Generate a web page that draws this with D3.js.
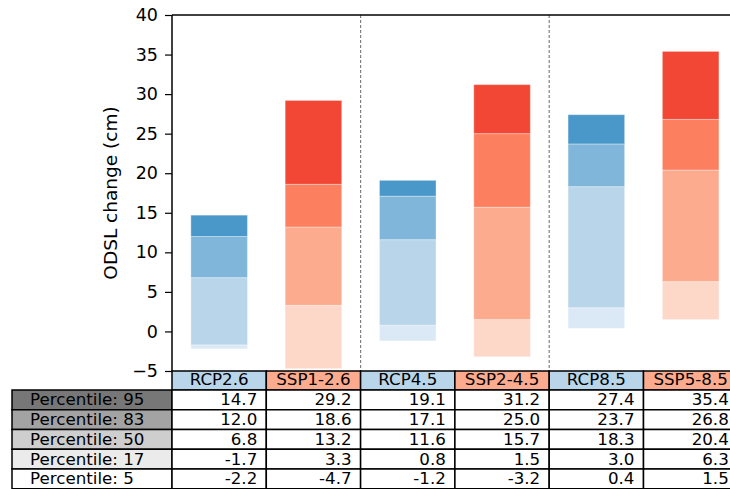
<!DOCTYPE html>
<html>
<head>
<meta charset="utf-8">
<script src="https://cdn.jsdelivr.net/npm/d3@7"></script>
<style>
  html, body { margin: 0; padding: 0; background: #fff; }
  svg { display: block; font-family: "DejaVu Sans", sans-serif; }
</style>
</head>
<body>
<svg id="chart" width="730" height="489"></svg>
<script>
// Scenario columns and ODSL change percentiles (cm)
const scenarios = ["RCP2.6", "SSP1-2.6", "RCP4.5", "SSP2-4.5", "RCP8.5", "SSP5-8.5"];
const families = ["RCP", "SSP", "RCP", "SSP", "RCP", "SSP"];
const percentiles = [95, 83, 50, 17, 5];
const p95 = [14.7, 29.2, 19.1, 31.2, 27.4, 35.4];
const p83 = [12.0, 18.6, 17.1, 25.0, 23.7, 26.8];
const p50 = [6.8, 13.2, 11.6, 15.7, 18.3, 20.4];
const p17 = [-1.7, 3.3, 0.8, 1.5, 3.0, 6.3];
const p5 = [-2.2, -4.7, -1.2, -3.2, 0.4, 1.5];
const yTicks = [-5, 0, 5, 10, 15, 20, 25, 30, 35, 40];

const rowValues = [p95, p83, p50, p17, p5];

// Colours: light to dark segments per family
const segColors = {
  RCP: ["#dbe9f6", "#b9d5ea", "#7fb6d9", "#4a98c9"],
  SSP: ["#fdd7c8", "#fcab8e", "#fc7f5f", "#f24734"]
};
const headerColors = { RCP: "#b9d5ea", SSP: "#fcab8f" };
const rowLabelColors = ["#777777", "#a3a3a3", "#cecece", "#ebebeb", "#ffffff"];

const svg = d3.select("#chart");
const plotLeft = 172, plotTop = 15, plotBottom = 371;
const step = 94.3;
const plotRight = plotLeft + step * scenarios.length;

const x = d3.scaleBand().domain(scenarios).range([plotLeft, plotRight])
  .paddingInner(0.4).paddingOuter(0.2);
const xCell = d3.scaleBand().domain(scenarios).range([plotLeft, plotRight]).padding(0);
const y = d3.scaleLinear().domain([-5, 40]).range([plotBottom, plotTop]);

// Clip the plotting area
svg.append("defs").append("clipPath").attr("id", "plotClip")
  .append("rect").attr("x", plotLeft).attr("y", plotTop)
  .attr("width", plotRight - plotLeft).attr("height", plotBottom - plotTop);

const plot = svg.append("g").attr("clip-path", "url(#plotClip)");

// Stacked percentile ranges: 5-17, 17-50, 50-83, 83-95
scenarios.forEach((s, i) => {
  const bounds = [p5[i], p17[i], p50[i], p83[i], p95[i]];
  const cols = segColors[families[i]];
  for (let k = 0; k < 4; k++) {
    const lo = bounds[k], hi = bounds[k + 1];
    plot.append("rect")
      .attr("x", x(s))
      .attr("width", x.bandwidth())
      .attr("y", y(hi))
      .attr("height", y(lo) - y(hi))
      .attr("fill", cols[k])
      .attr("stroke", "#ffffff")
      .attr("stroke-opacity", 0.35)
      .attr("stroke-width", 1);
  }
});

// Dashed separators between scenario pairs
[2, 4].forEach(i => {
  const xv = xCell(scenarios[i]);
  svg.append("line")
    .attr("x1", xv).attr("x2", xv)
    .attr("y1", plotTop).attr("y2", plotBottom)
    .attr("stroke", "#808080")
    .attr("stroke-width", 1.2)
    .attr("stroke-dasharray", "3,2");
});

// Y axis
const yAxis = svg.append("g")
  .attr("transform", `translate(${plotLeft},0)`)
  .call(d3.axisLeft(y).tickValues(yTicks).tickSize(7).tickPadding(7)
    .tickFormat(d => d < 0 ? "\u2212" + Math.abs(d) : d));
yAxis.select(".domain").remove();
yAxis.selectAll("line").attr("stroke", "#000").attr("stroke-width", 1.2);
yAxis.selectAll("text").attr("font-size", 17.5).attr("fill", "#000")
  .attr("font-family", "DejaVu Sans, sans-serif");

// Spines
svg.append("line").attr("x1", plotLeft).attr("x2", plotLeft).attr("y1", plotTop).attr("y2", plotBottom)
  .attr("stroke", "#000").attr("stroke-width", 1.5);
svg.append("line").attr("x1", plotLeft).attr("x2", plotRight).attr("y1", plotTop).attr("y2", plotTop)
  .attr("stroke", "#000").attr("stroke-width", 1.5);

// Y label
svg.append("text")
  .attr("transform", `translate(117,${(plotTop + plotBottom) / 2}) rotate(-90)`)
  .attr("text-anchor", "middle")
  .attr("font-size", 18.5)
  .text("ODSL change (cm)");

// Table below the axes
const headTop = plotBottom, headBot = 390;
const rowH = 19.75;
const labelLeft = 12;
const cellFont = 16.7;
const table = svg.append("g");

// Header row
scenarios.forEach((s, i) => {
  table.append("rect")
    .attr("x", xCell(s)).attr("y", headTop)
    .attr("width", xCell.bandwidth()).attr("height", headBot - headTop)
    .attr("fill", headerColors[families[i]])
    .attr("stroke", "#000").attr("stroke-width", 1.5);
  table.append("text")
    .attr("x", xCell(s) + xCell.bandwidth() / 2)
    .attr("y", headBot - 5)
    .attr("text-anchor", "middle")
    .attr("font-size", cellFont)
    .text(s);
});

// Body rows
percentiles.forEach((p, r) => {
  const ry = headBot + r * rowH;
  table.append("rect")
    .attr("x", labelLeft).attr("y", ry)
    .attr("width", plotLeft - labelLeft).attr("height", rowH)
    .attr("fill", rowLabelColors[r])
    .attr("stroke", "#000").attr("stroke-width", 1.5);
  table.append("text")
    .attr("x", labelLeft + 18).attr("y", ry + rowH - 4.5)
    .attr("font-size", cellFont)
    .text("Percentile: " + p);
  scenarios.forEach((s, i) => {
    table.append("rect")
      .attr("x", xCell(s)).attr("y", ry)
      .attr("width", xCell.bandwidth()).attr("height", rowH)
      .attr("fill", "#fff")
      .attr("stroke", "#000").attr("stroke-width", 1.5);
    table.append("text")
      .attr("x", xCell(s) + xCell.bandwidth() - 9)
      .attr("y", ry + rowH - 4.5)
      .attr("text-anchor", "end")
      .attr("font-size", cellFont)
      .text(rowValues[r][i].toFixed(1));
  });
});
</script>
</body>
</html>
